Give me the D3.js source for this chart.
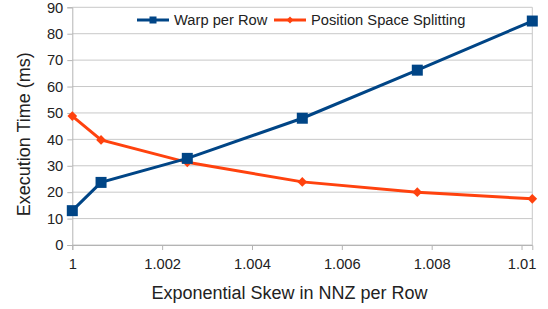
<!DOCTYPE html>
<html>
<head>
<meta charset="utf-8">
<script src="https://cdn.jsdelivr.net/npm/d3@7/dist/d3.min.js"></script>
<style>
  body { margin: 0; background: #fff; }
  text { font-family: "Liberation Sans", Arial, sans-serif; fill: #222; }
</style>
</head>
<body>
<div id="chart"></div>
<script>
const skew = [1.0, 1.00064, 1.00256, 1.00512, 1.00768, 1.01024];
const warpPerRow = [13, 23.7, 32.8, 48, 66.2, 84.8];
const positionSpaceSplitting = [48.8, 39.8, 31.3, 23.9, 20.0, 17.5];
const xTicks = [1, 1.002, 1.004, 1.006, 1.008, 1.01];
const yTicks = [0, 10, 20, 30, 40, 50, 60, 70, 80, 90];

const width = 548, height = 309;
const margin = { top: 7.3, right: 15.7, bottom: 64, left: 72.3 };
const innerW = width - margin.left - margin.right;
const innerH = height - margin.top - margin.bottom;

const svg = d3.select('#chart')
  .append('svg')
  .attr('width', width)
  .attr('height', height);

const g = svg.append('g')
  .attr('transform', `translate(${margin.left},${margin.top})`);

const x = d3.scaleLinear().domain([1, 1.01024]).range([0, innerW]);
const y = d3.scaleLinear().domain([0, 90]).range([innerH, 0]);

// horizontal gridlines
g.selectAll('.grid')
  .data(yTicks)
  .enter()
  .append('line')
  .attr('x1', 0)
  .attr('x2', innerW)
  .attr('y1', d => y(d))
  .attr('y2', d => y(d))
  .attr('stroke', '#c8c8c8')
  .attr('stroke-width', 1);

// right border
g.append('line')
  .attr('x1', innerW).attr('x2', innerW)
  .attr('y1', 0).attr('y2', innerH)
  .attr('stroke', '#c8c8c8');

const xAxis = g.append('g')
  .attr('transform', `translate(0,${innerH})`)
  .call(d3.axisBottom(x).tickValues(xTicks).tickSize(5).tickPadding(8.5).tickFormat(d3.format('')));

const yAxis = g.append('g')
  .call(d3.axisLeft(y).tickValues(yTicks).tickSize(5).tickPadding(4));

[xAxis, yAxis].forEach(a => {
  a.select('.domain').attr('stroke', '#b4b4b4');
  a.selectAll('.tick line').attr('stroke', '#b4b4b4');
  a.selectAll('.tick text')
    .style('font-family', '"Liberation Sans", Arial, sans-serif')
    .style('font-size', '14.7px')
    .attr('fill', '#222');
});

const line = d3.line()
  .x((d, i) => x(skew[i]))
  .y(d => y(d));

const blue = '#004586';
const orange = '#ff420e';

g.append('path')
  .datum(positionSpaceSplitting)
  .attr('d', line)
  .attr('fill', 'none')
  .attr('stroke', orange)
  .attr('stroke-width', 3);

g.selectAll('.pss')
  .data(positionSpaceSplitting)
  .enter()
  .append('path')
  .attr('d', d3.symbol().type(d3.symbolDiamond2).size(60))
  .attr('transform', (d, i) => `translate(${x(skew[i])},${y(d)})`)
  .attr('fill', orange);

g.append('path')
  .datum(warpPerRow)
  .attr('d', line)
  .attr('fill', 'none')
  .attr('stroke', blue)
  .attr('stroke-width', 3);

g.selectAll('.warp')
  .data(warpPerRow)
  .enter()
  .append('rect')
  .attr('x', (d, i) => x(skew[i]) - 5.5)
  .attr('y', d => y(d) - 5.5)
  .attr('width', 11)
  .attr('height', 11)
  .attr('fill', blue);

// legend
const legend = svg.append('g').attr('transform', 'translate(137,20)');
const items = [
  { label: 'Warp per Row', color: blue, x: 0, shape: 'square' },
  { label: 'Position Space Splitting', color: orange, x: 137, shape: 'diamond' }
];
items.forEach(it => {
  const lg = legend.append('g').attr('transform', `translate(${it.x},0)`);
  lg.append('line')
    .attr('x1', 0).attr('x2', 32)
    .attr('y1', 0).attr('y2', 0)
    .attr('stroke', it.color)
    .attr('stroke-width', 3);
  if (it.shape === 'square') {
    lg.append('rect').attr('x', 12.5).attr('y', -3.5).attr('width', 7).attr('height', 7).attr('fill', it.color);
  } else {
    lg.append('path')
      .attr('d', d3.symbol().type(d3.symbolDiamond2).size(32))
      .attr('transform', 'translate(16,0)')
      .attr('fill', it.color);
  }
  lg.append('text')
    .attr('x', 37)
    .attr('y', 0)
    .attr('dy', '0.35em')
    .style('font-size', '14.7px')
    .text(it.label);
});

// axis titles
svg.append('text')
  .attr('x', 289.5)
  .attr('y', 299)
  .attr('text-anchor', 'middle')
  .style('font-size', '18px')
  .text('Exponential Skew in NNZ per Row');

svg.append('text')
  .attr('transform', 'translate(30,134.3) rotate(-90)')
  .attr('text-anchor', 'middle')
  .style('font-size', '18px')
  .text('Execution Time (ms)');
</script>
</body>
</html>
